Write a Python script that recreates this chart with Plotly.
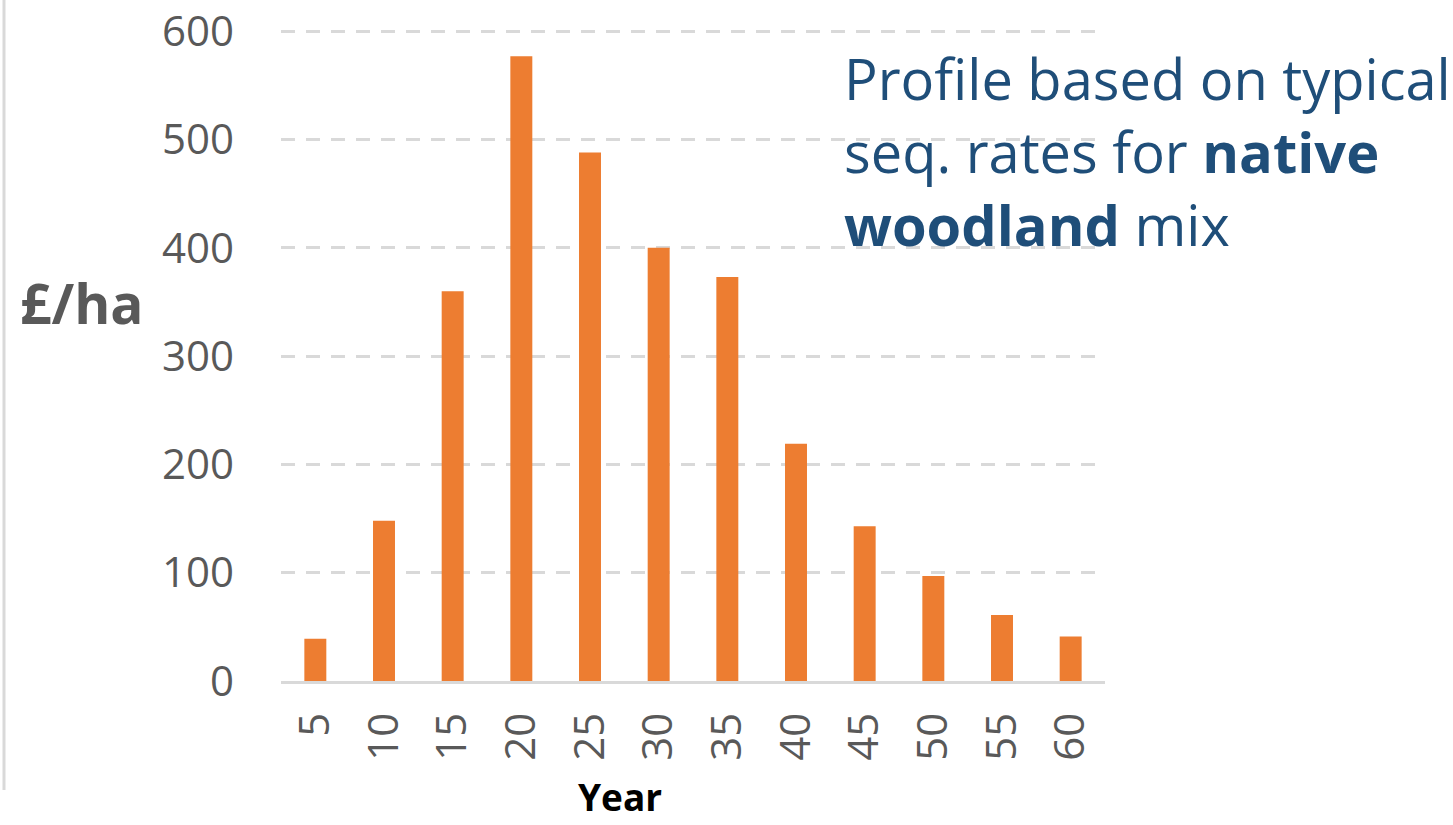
import plotly.graph_objects as go

years = ["5", "10", "15", "20", "25", "30", "35", "40", "45", "50", "55", "60"]
values = [39, 148, 360, 577, 488, 400, 373, 219, 143, 97, 61, 41]
y_ticks = [0, 100, 200, 300, 400, 500, 600]

W, H = 1453, 825
L, R, T, B = 281, 348, 28, 144
PW, PH = W - L - R, H - T - B


def px_x(x):
    return (x - L) / PW


def px_y(y):
    return (H - B - y) / PH


fig = go.Figure()
fig.add_trace(go.Bar(x=years, y=values, marker=dict(color="#ED7D31", line=dict(width=0)),
                     hoverinfo="skip"))

fig.update_layout(
    width=W, height=H,
    margin=dict(l=L, r=R, t=T, b=B, pad=0, autoexpand=False),
    paper_bgcolor="white", plot_bgcolor="white",
    bargap=0.68, showlegend=False,
    font=dict(family="Open Sans", color="#595959"),
)
fig.update_xaxes(
    type="category", tickangle=-90, tickfont=dict(size=42, color="#595959"),
    showgrid=False, showline=True, linecolor="#d9d9d9", linewidth=3,
    ticks="", ticklabelstandoff=12, zeroline=False, automargin=False,
)
fig.update_yaxes(
    range=[0, 603], tickvals=y_ticks, tickfont=dict(size=42, color="#595959"),
    showgrid=True, gridcolor="#d9d9d9", gridwidth=3, griddash="14px,11px",
    showline=False, zeroline=False, ticks="", ticklabelstandoff=46, automargin=False,
)

fig.add_annotation(text="<b>£/ha</b>", xref="paper", yref="paper",
                   x=px_x(82), y=px_y(302),
                   showarrow=False, font=dict(size=55, color="#595959", family="Open Sans"),
                   xanchor="center", yanchor="middle")
fig.add_annotation(text="<b>Year</b>", xref="paper", yref="paper",
                   x=px_x(620), y=px_y(824),
                   showarrow=False, font=dict(size=37, color="#000000", family="Open Sans"),
                   xanchor="center", yanchor="bottom")
fig.add_annotation(
    text="Profile based on typical<br>seq. rates for <b>native</b><br><b>woodland</b> mix",
    xref="paper", yref="paper", x=px_x(842), y=px_y(38),
    showarrow=False, align="left", xanchor="left", yanchor="top",
    font=dict(size=56, color="#1F4E79", family="Open Sans"),
)
fig.add_shape(type="line", xref="paper", yref="paper",
              x0=px_x(4), x1=px_x(4), y0=px_y(0), y1=px_y(790),
              line=dict(color="#d9d9d9", width=3))

fig.write_html("out.html")
